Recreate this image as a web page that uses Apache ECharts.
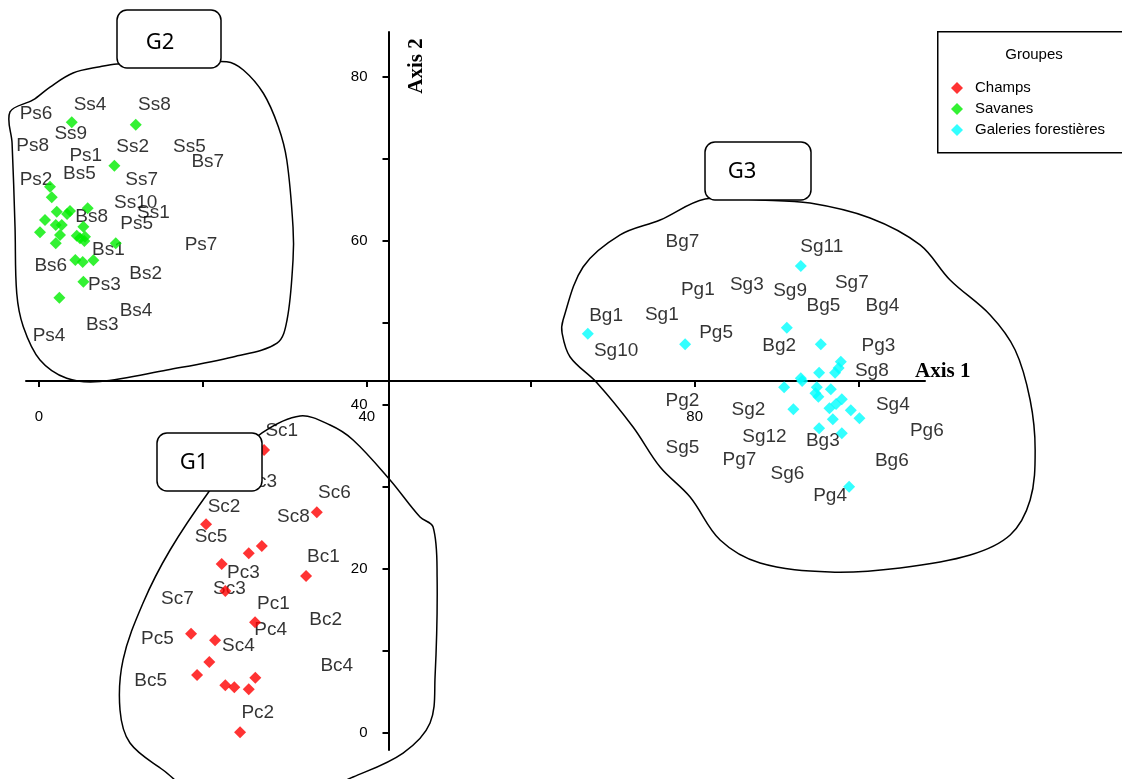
<!DOCTYPE html>
<html><head><meta charset="utf-8">
<script src="https://cdn.jsdelivr.net/npm/echarts@6/dist/echarts.min.js"></script>
<style>html,body{margin:0;padding:0;background:#fff}#c{width:1122px;height:779px}</style>
</head><body><div id="c"></div>
<script>
// ---- data (axis units) ----
const champsPoints = [[27.46,34.48],[20.38,25.41],[33.89,26.88],[27.18,22.77],[25.59,21.88],[22.29,20.57],[32.58,19.11],[22.73,17.28],[26.36,13.46],[18.55,12.07],[21.48,11.27],[20.78,8.62],[19.28,7.04],[26.39,6.71],[22.73,5.78],[23.83,5.54],[25.59,5.29],[24.53,0.05]];
const champsLabels = [['Sc1',29.62,36.83],['Bc3',27.05,30.61],['Sc2',22.57,27.56],['Sc5',20.99,23.90],['Sc6',36.03,29.20],['Sc8',31.03,26.34],['Bc1',34.69,21.46],['Pc3',24.93,19.56],['Sc3',23.22,17.61],['Sc7',16.88,16.30],['Pc1',28.59,15.70],['Bc2',34.98,13.74],['Pc5',14.44,11.43],['Pc4',28.27,12.52],['Sc4',24.32,10.61],['Bc4',36.33,8.13],['Bc5',13.63,6.30],['Pc2',26.69,2.44]];

const savanesPoints = [[3.99,74.44],[11.80,74.15],[9.19,69.15],[1.34,66.59],[1.55,65.29],[2.16,63.54],[3.78,63.62],[5.94,63.95],[0.73,62.52],[2.04,61.91],[2.77,61.91],[0.12,61.02],[2.56,60.70],[4.60,60.61],[5.41,61.71],[5.00,60.29],[5.61,60.49],[2.04,59.68],[9.36,59.68],[4.43,57.65],[5.33,57.40],[6.63,57.61],[5.41,55.00],[2.48,53.05],[5.53,59.96],[3.42,63.26]];
const savanesLabels = [['Ss4',6.22,76.63],['Ss8',14.07,76.55],['Ps6',-0.37,75.45],['Ss9',3.87,73.01],['Ps8',-0.77,71.63],['Ps1',5.70,70.37],['Ss2',11.43,71.46],['Ss5',18.34,71.46],['Bs7',20.59,69.60],['Ps2',-0.37,67.40],['Bs5',4.92,68.22],['Ss7',12.53,67.40],['Ss10',11.80,64.68],['Ss1',13.95,63.46],['Bs8',6.43,62.93],['Ps5',11.92,62.12],['Ps7',19.77,59.48],['Bs1',8.46,58.87],['Bs6',1.43,56.91],['Bs2',13.02,56.02],['Ps3',7.97,54.60],['Bs4',11.84,51.46],['Bs3',7.72,49.72],['Ps4',1.22,48.38]];

const galeriesPoints = [[92.95,56.91],[66.96,48.66],[78.83,47.37],[91.24,49.39],[95.39,47.37],[97.83,45.24],[97.13,43.90],[95.18,43.90],[92.95,43.22],[90.91,42.12],[94.90,42.12],[96.61,41.88],[95.09,40.98],[97.95,40.66],[92.04,39.44],[96.44,39.56],[99.05,39.32],[100.10,38.34],[96.85,38.22],[95.18,37.12],[97.95,36.51],[98.84,30.00],[94.73,41.39],[97.56,44.48],[93.11,42.89],[97.25,40.09]];
const galeriesLabels = [['Bg7',78.50,59.88],['Sg11',95.51,59.27],['Pg1',80.38,54.07],['Sg3',86.36,54.68],['Sg9',91.64,53.87],['Sg7',99.17,54.93],['Bg5',95.70,52.04],['Bg4',102.90,52.04],['Bg1',69.19,50.85],['Sg1',75.99,51.02],['Pg5',82.61,48.78],['Bg2',90.30,47.16],['Pg3',102.42,47.20],['Sg10',70.41,46.59],['Sg8',101.61,44.11],['Pg2',78.50,40.49],['Sg2',86.55,39.35],['Sg4',104.17,40.05],['Pg6',108.32,36.83],['Sg12',88.51,36.10],['Bg3',95.63,35.57],['Sg5',78.50,34.80],['Pg7',85.45,33.34],['Sg6',91.31,31.55],['Bg6',104.05,33.13],['Pg4',96.52,28.87]];

// group outlines (axis units)
const outlineG1 = [[23.92,33.26],[27.21,36.55],[31.85,38.62],[35.51,37.52],[38.32,35.70],[42.83,30.82],[46.49,26.30],[48.08,25.09],[48.57,18.99],[48.32,6.79],[47.71,1.18],[44.42,-2.48],[38.32,-5.40],[31.85,-7.84],[19.65,-7.60],[15.13,-4.55],[11.10,-1.26],[9.88,2.77],[10.25,8.87],[12.69,15.82],[15.99,22.28],[20.87,29.60]];
const outlineG2 = [[15.99,81.67],[22.90,81.83],[24.93,80.82],[27.37,77.98],[29.20,73.90],[30.23,69.84],[30.99,61.67],[30.99,57.65],[30.26,50.33],[29.04,47.52],[23.67,45.82],[15.62,44.23],[7.44,42.83],[3.38,43.22],[0.12,45.45],[-1.92,49.51],[-2.72,53.59],[-2.93,61.71],[-3.29,71.91],[-3.54,75.70],[-0.73,77.16],[1.34,78.74],[4.15,80.45],[7.44,81.22],[9.52,81.55]];
const outlineG3 = [[87.98,64.96],[94.08,64.59],[101.40,62.77],[107.50,59.48],[111.16,55.21],[116.05,50.94],[119.10,46.67],[120.93,40.57],[121.54,34.48],[120.93,28.38],[118.49,24.11],[113.61,21.67],[105.06,20.09],[96.52,19.60],[87.98,20.70],[83.10,23.50],[79.44,28.74],[75.78,32.40],[72.48,37.28],[68.09,42.65],[64.80,45.82],[63.82,48.74],[63.94,50.33],[66.38,56.79],[70.90,60.70],[75.78,62.52],[81.27,65.08]];
const outlines = [outlineG1, outlineG2, outlineG3];

const xTickValues = [0,20,40,60,80,100];
const xLabelValues = [0,40,80];
const yTickValues = [0,10,20,30,40,50,60,70,80];
const yLabelValues = [0,20,40,60,80];
const seriesNames = ['Champs','Savanes','Galeries forestières'];
const seriesColors = ['#ff0000','#00ee00','#00ffff'];

// ---- chart ----
const chart = echarts.init(document.getElementById('c'));
const labelFont = {fontSize:19, fontFamily:'Liberation Sans, Arial, sans-serif', color:'#000', textBorderWidth:0};

function pointSeries(name, color, pts){
  return {type:'scatter', name, data:pts, symbol:'diamond', symbolSize:12,
    itemStyle:{color}, z:5, silent:true};
}
function labelSeries(lbls){
  return {type:'scatter', data:lbls.map(l=>[l[1],l[2],l[0]]), symbol:'circle', symbolSize:0.1,
    itemStyle:{color:'rgba(0,0,0,0)'}, clip:false, z:3, silent:true, legendHoverLink:false,
    label:{show:true, position:'inside', formatter:p=>p.value[2], ...labelFont}};
}

const axisFont = {fontSize:15, fontFamily:'Liberation Sans, Arial, sans-serif', color:'#000'};

chart.setOption({
  animation:false,
  backgroundColor:'#fff',
  grid:{left:26, right:197, top:32, bottom:29},
  xAxis:{type:'value', min:-1.59, max:108.1, position:'bottom', offset:-369,
    axisLine:{onZero:false, lineStyle:{color:'#000', width:2}},
    axisTick:{show:true, inside:false, length:6, customValues:xTickValues, lineStyle:{color:'#000', width:2}},
    axisLabel:{show:true, customValues:xLabelValues, margin:28, ...axisFont},
    splitLine:{show:false}},
  yAxis:{type:'value', min:-2.11, max:85.45, position:'left', offset:-362.5,
    axisLine:{onZero:false, show:true, lineStyle:{color:'#000', width:2}},
    axisTick:{show:true, inside:false, length:6, customValues:yTickValues, lineStyle:{color:'#000', width:2}},
    axisLabel:{show:true, customValues:yLabelValues, margin:21, ...axisFont},
    splitLine:{show:false}},
  legend:{orient:'vertical', left:951, top:80, padding:0, itemGap:5, itemWidth:12, itemHeight:12,
    icon:'diamond', data:seriesNames,
    textStyle:{fontSize:15, fontFamily:'Liberation Sans, Arial, sans-serif', color:'#000', lineHeight:16, padding:[0,0,0,7]}},
  graphic:[
    {type:'rect', left:937, top:31, z:0, shape:{width:200, height:121}, style:{fill:'#fff', stroke:'#000', lineWidth:1.5}},
    {type:'text', x:1034, y:55, z:10, style:{text:'Groupes', fontSize:15, fontFamily:'Liberation Sans, Arial, sans-serif', fill:'#000', align:'center', verticalAlign:'middle'}},
    {type:'text', x:417, y:66, rotation:Math.PI/2, z:10, style:{text:'Axis 2', fontSize:21, fontWeight:'bold', fontFamily:'Liberation Serif, Times New Roman, serif', fill:'#000', align:'center', verticalAlign:'middle'}},
    {type:'text', x:915, y:372, z:10, style:{text:'Axis 1', fontSize:21, fontWeight:'bold', fontFamily:'Liberation Serif, Times New Roman, serif', fill:'#000', align:'left', verticalAlign:'middle'}},
    {type:'rect', x:117, y:10, z:100, shape:{width:104, height:58, r:10}, style:{fill:'#fff', stroke:'#000', lineWidth:1.5}},
    {type:'text', x:160, y:43, z:101, style:{text:'G2', fontSize:22, fontFamily:'Noto Sans, sans-serif', fill:'#000', align:'center', verticalAlign:'middle'}},
    {type:'rect', x:157, y:433, z:100, shape:{width:105, height:58, r:10}, style:{fill:'#fff', stroke:'#000', lineWidth:1.5}},
    {type:'text', x:194, y:463, z:101, style:{text:'G1', fontSize:22, fontFamily:'Noto Sans, sans-serif', fill:'#000', align:'center', verticalAlign:'middle'}},
    {type:'rect', x:705, y:142, z:100, shape:{width:106, height:58, r:10}, style:{fill:'#fff', stroke:'#000', lineWidth:1.5}},
    {type:'text', x:742, y:172, z:101, style:{text:'G3', fontSize:22, fontFamily:'Noto Sans, sans-serif', fill:'#000', align:'center', verticalAlign:'middle'}}
  ],
  series:[
    {type:'custom', coordinateSystem:'cartesian2d', silent:true, clip:false, z:1,
      data: outlines.map(o => [o[0][0], o[0][1]]),
      renderItem:(params, api) => {
        const pts = outlines[params.dataIndex].map(p => api.coord(p));
        return {type:'polygon', shape:{points:pts, smooth:0.35},
          style:{fill:'none', stroke:'#000', lineWidth:1.5}};
      }},
    labelSeries(champsLabels), labelSeries(savanesLabels), labelSeries(galeriesLabels),
    pointSeries(seriesNames[0], seriesColors[0], champsPoints),
    pointSeries(seriesNames[1], seriesColors[1], savanesPoints),
    pointSeries(seriesNames[2], seriesColors[2], galeriesPoints)
  ]
});
</script>
</body></html>
